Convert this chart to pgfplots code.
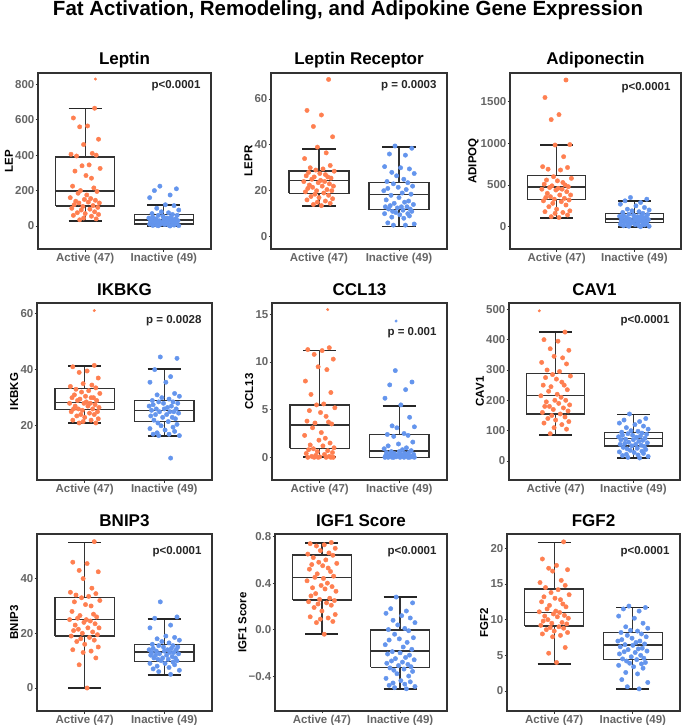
\documentclass[border=0pt]{standalone}
\usepackage{fontspec}
\setmainfont{Liberation Sans}
\usepackage{pgfplots}
\usepackage{pgfplotstable}
\pgfplotsset{compat=1.18}

\definecolor{act}{HTML}{FF7F50}
\definecolor{ina}{HTML}{6495ED}
\definecolor{framegray}{HTML}{333333}
\definecolor{tickgray}{HTML}{666666}
\definecolor{ptext}{HTML}{262626}

% jitter offsets (active / inactive), one row per point
\pgfplotstableread[row sep=\\]{ja jb\\
0.12 -0.05\\-0.15 0.16\\0.03 -0.12\\-0.07 0.08\\0.17 -0.18\\-0.02 0.02\\0.09 0.13\\-0.18 -0.09\\0.14 0.19\\-0.11 -0.03\\
0.05 0.06\\-0.04 -0.15\\0.19 0.11\\-0.13 -0.07\\0.01 0.17\\0.08 -0.01\\-0.16 -0.14\\0.11 0.09\\-0.06 -0.19\\0.15 0.04\\
-0.09 0.15\\0.02 -0.10\\-0.19 0.00\\0.07 -0.16\\-0.01 0.12\\0.13 0.07\\-0.12 -0.06\\0.04 0.18\\0.18 -0.11\\-0.08 0.03\\
-0.14 -0.17\\0.10 0.10\\-0.03 -0.02\\0.16 0.14\\-0.17 -0.13\\0.06 0.05\\-0.05 -0.08\\0.12 0.16\\-0.10 -0.04\\0.00 0.11\\
0.17 -0.18\\-0.15 0.01\\0.08 0.13\\-0.02 -0.09\\0.14 0.06\\-0.07 -0.14\\0.03 0.19\\-0.12 -0.07\\0.10 0.08\\}\jit

% values, one column per panel and group (nan pads the shorter groups)
\pgfplotstablecreatecol[create col/set list={665,610,565,560,490,460,410,405,400,395,345,340,325,310,285,270,225,215,200,195,185,175,160,155,150,145,140,135,130,130,120,115,110,105,100,95,90,80,75,70,65,60,55,45,40,35,nan,nan,nan}]{a1}{\jit}
\pgfplotstablecreatecol[create col/set list={225,210,200,175,160,120,115,100,90,80,75,70,65,60,60,55,50,50,45,45,40,40,40,35,35,35,30,30,30,25,25,25,20,20,20,15,15,15,10,10,10,8,5,5,5,3,2,1,0}]{b1}{\jit}
\pgfplotstablecreatecol[create col/set list={68.5,55,53,48,43.5,39,36.5,34,31,30,29.5,29,28.5,28,27.5,27,26.5,26,26,25.5,25,24.5,24,24,23.5,23,22.5,22,22,21.5,21,20.5,20,20,19.5,19,18.5,18,17.5,17,16.5,16,15.5,15,14.5,14,13.5,nan,nan}]{a2}{\jit}
\pgfplotstablecreatecol[create col/set list={39.5,38.5,36,35.5,30.5,30,29.5,28,27.5,26.5,25,24,23.5,23,22,21.5,21,20.5,20,19,18.5,18,17,16,15.5,15,14.5,14,13.5,13,13,13,12.5,12,12,11.5,11,11,10.5,10,10,9.5,9,8.5,8,6,5.5,5,5}]{b2}{\jit}
\pgfplotstablecreatecol[create col/set list={1760,1550,1345,1285,985,980,840,720,710,690,680,600,580,560,550,530,510,500,490,480,470,460,450,450,440,420,400,380,380,360,350,340,330,320,310,300,280,260,240,210,190,180,170,160,140,120,110,nan,nan}]{a3}{\jit}
\pgfplotstablecreatecol[create col/set list={350,330,310,290,270,250,230,210,200,190,180,170,160,150,145,140,135,130,125,120,115,110,105,100,100,95,90,85,80,75,70,65,60,60,55,50,45,40,40,35,30,25,20,15,10,10,5,5,0}]{b3}{\jit}
\pgfplotstablecreatecol[create col/set list={41.5,41,39.5,39,37,35,34.5,34,33.5,33,32.5,32,31.5,31,30.5,30,30,30,29.5,29,29,28.5,28,28,28,27.5,27,27,26.5,26,26,26,25.5,25,25,24.5,24,24,23.5,23,22.5,22,22,21.5,21,21,nan,nan,nan}]{a4}{\jit}
\pgfplotstablecreatecol[create col/set list={44.5,44,40,37.5,35.5,35.5,31.5,31,30.5,30,29.5,29,28.5,28.5,28,28,27.5,27,27,26.5,26,26,26,25.5,25,25,25,24.5,24,24,23.5,23,23,22.5,22,21.5,21,20.5,20,19.5,19,18.5,18,17.5,17,17,16.5,16.5,8.5}]{b4}{\jit}
\pgfplotstablecreatecol[create col/set list={11.5,11.3,11.2,10.8,10.3,9.5,9.2,8.0,6.8,6.6,5.6,5.5,5.2,4.9,4.7,4.3,3.8,3.7,3.6,3.5,3.1,2.6,2.3,2.0,1.8,1.5,1.3,1.2,1.0,0.9,0.8,0.7,0.6,0.5,0.4,0.3,0.2,0.1,0.1,0.05,0,0,0,0,0,0,nan,nan,nan}]{a5}{\jit}
\pgfplotstablecreatecol[create col/set list={9.1,7.9,7.6,7.1,6.2,5.5,4.2,3.3,3.2,3.1,2.5,2.4,2.3,2.2,1.6,1.4,1.2,1.0,0.9,0.8,0.7,0.6,0.6,0.5,0.5,0.4,0.4,0.3,0.3,0.3,0.2,0.2,0.2,0.1,0.1,0.1,0.1,0.05,0.05,0,0,0,0,0,0,0,0,0,nan}]{b5}{\jit}
\pgfplotstablecreatecol[create col/set list={425,400,395,370,365,345,340,325,320,300,295,285,280,275,270,260,250,250,245,235,230,220,215,210,200,200,195,190,185,180,180,175,170,165,160,155,150,145,140,135,130,125,120,110,105,90,nan,nan,nan}]{a6}{\jit}
\pgfplotstablecreatecol[create col/set list={155,140,135,130,125,120,115,110,105,100,98,95,92,90,88,85,85,82,80,78,75,72,70,70,68,65,62,60,58,55,55,52,50,48,45,42,40,38,35,32,30,28,25,22,20,18,15,12,10}]{b6}{\jit}
\pgfplotstablecreatecol[create col/set list={53.5,46,45.5,43,42.5,40,36.5,35,34.5,34,33.5,33,32,31.5,30.5,30,28,27,26.5,26,25.5,25,25,24.5,24,23.5,23,22,22,21.5,21,20.5,20,19.5,19,18.5,18,17.5,17,16,15,14,13.5,13,11,8.5,0,nan,nan}]{a7}{\jit}
\pgfplotstablecreatecol[create col/set list={31.5,26,25.5,23,22,19,18.5,18,17.5,17,16.5,16,15.5,15.5,15,15,14.5,14.5,14,14,14,13.5,13.5,13,13,13,12.5,12.5,12,12,12,11.5,11,11,11,10.5,10.5,10,10,9.5,9,9,8.5,8,7.5,7,6.5,6,5}]{b7}{\jit}
\pgfplotstablecreatecol[create col/set list={0.75,0.74,0.73,0.72,0.70,0.68,0.66,0.65,0.64,0.62,0.60,0.58,0.57,0.56,0.55,0.53,0.52,0.50,0.48,0.46,0.45,0.44,0.42,0.40,0.38,0.37,0.36,0.35,0.33,0.31,0.29,0.27,0.26,0.25,0.24,0.23,0.22,0.21,0.19,0.16,0.13,0.11,0.10,0.09,0.07,0.06,-0.04,nan,nan}]{a8}{\jit}
\pgfplotstablecreatecol[create col/set list={0.28,0.23,0.18,0.16,0.14,0.12,0.10,0.08,0.06,0.04,0.01,0.0,-0.01,-0.04,-0.07,-0.08,-0.09,-0.11,-0.13,-0.15,-0.17,-0.19,-0.20,-0.21,-0.22,-0.24,-0.25,-0.26,-0.27,-0.28,-0.29,-0.30,-0.31,-0.32,-0.33,-0.34,-0.35,-0.36,-0.38,-0.40,-0.42,-0.44,-0.45,-0.46,-0.47,-0.48,-0.49,-0.50,-0.51}]{b8}{\jit}
\pgfplotstablecreatecol[create col/set list={20.9,18.5,17.6,17.2,17.0,16.8,15.5,15.2,14.8,14.5,14.2,13.8,13.5,13.2,13.0,12.8,12.5,12.2,12.0,11.8,11.5,11.2,11.1,11.0,10.8,10.6,10.5,10.4,10.2,10.0,9.8,9.6,9.5,9.4,9.2,9.0,8.9,8.8,8.6,8.4,8.2,8.0,7.8,7.6,6.1,5.3,4.0,nan,nan}]{a9}{\jit}
\pgfplotstablecreatecol[create col/set list={11.9,11.7,11.5,11.2,10.5,10.2,9.5,9.0,8.8,8.5,8.4,8.2,8.0,7.8,7.6,7.4,7.2,7.0,7.0,6.8,6.6,6.5,6.4,6.2,6.0,5.9,5.8,5.6,5.5,5.4,5.2,5.0,4.8,4.6,4.5,4.4,4.2,4.0,3.9,3.8,3.6,3.4,3.2,2.6,2.4,1.6,1.2,0.6,0.3}]{b9}{\jit}

\newcommand{\lbl}{\bfseries\fontsize{11.5}{12}\selectfont}

\pgfplotsset{
  panel/.style={
    scale only axis, anchor=north west,
    xmin=0.4, xmax=2.6,
    xtick={1,2}, xticklabels={Active (47),Inactive (49)},
    tick pos=left, tick align=outside, major tick length=2.5pt,
    tick style={framegray, line width=0.8pt},
    axis line style={framegray, line width=1.3pt},
    ticklabel style={font=\lbl, text=tickgray, inner sep=1pt},
    /pgf/number format/assume math mode=true,
    /pgf/number format/1000 sep={},
    scaled y ticks=false,
    ylabel style={font=\lbl, inner sep=1pt},
    title style={font=\bfseries\fontsize{17}{19}\selectfont, at={(0.5,1)}, anchor=base, yshift=2pt},
  },
  boxline/.style={draw=framegray, line width=1.3pt, mark=none},
  capline/.style={draw=black!85, line width=1.8pt, mark=none},
  dots/.style={only marks, mark=*, mark size=2.2pt, color=#1},
  odot/.style={only marks, mark=*, mark size=1.3pt, color=#1},
}

% box for group 1 and group 2: lower whisker, Q1, median, Q3, upper whisker
\newcommand{\bxA}[5]{%
  \addplot[boxline] coordinates {(1,#1) (1,#5)};
  \addplot[capline] coordinates {(0.79,#1) (1.21,#1)};
  \addplot[capline] coordinates {(0.79,#5) (1.21,#5)};
  \addplot[boxline, fill=white] coordinates {(0.625,#2) (1.375,#2) (1.375,#4) (0.625,#4) (0.625,#2)};
  \addplot[boxline] coordinates {(0.625,#3) (1.375,#3)};}
\newcommand{\bxB}[5]{%
  \addplot[boxline] coordinates {(2,#1) (2,#5)};
  \addplot[capline] coordinates {(1.79,#1) (2.21,#1)};
  \addplot[capline] coordinates {(1.79,#5) (2.21,#5)};
  \addplot[boxline, fill=white] coordinates {(1.625,#2) (2.375,#2) (2.375,#4) (1.625,#4) (1.625,#2)};
  \addplot[boxline] coordinates {(1.625,#3) (2.375,#3)};}
% jittered points: colour, jitter column, centre, value column
\newcommand{\pts}[4]{\addplot[dots=#1] table[x expr={#3+\thisrow{#2}}, y=#4] {\jit};}
\newcommand{\pv}[2]{\node[anchor=east, font=\lbl, text=ptext, xshift=-7pt, yshift=-#2pt] at (rel axis cs:1,1) {#1};}

\begin{document}
\begin{tikzpicture}
\path[use as bounding box] (0,0) rectangle (685pt,-725pt);
\node[font=\bfseries\fontsize{20.5}{23}\selectfont, anchor=base] at (348pt,-15.5pt) {Fat Activation, Remodeling, and Adipokine Gene Expression};

% ---- Leptin
\begin{axis}[panel, at={(38pt,-73pt)}, width=173pt, height=176pt,
  ymin=-130, ymax=864, ytick={0,200,400,600,800}, ylabel={LEP}, title={Leptin}]
\bxA{30}{113}{198}{390}{664}
\bxB{0}{11}{34}{64}{119}
\pts{act}{ja}{1}{a1}
\pts{ina}{jb}{2}{b1}
\addplot[odot=act] coordinates {(1.13,830)};
\pv{p<0.0001}{13}
\end{axis}

% ---- Leptin Receptor
\begin{axis}[panel, at={(271pt,-73pt)}, width=176pt, height=176pt,
  ymin=-5.4, ymax=71.3, ytick={0,20,40,60}, ylabel={LEPR}, title={Leptin Receptor}]
\bxA{13.2}{18.9}{24.3}{28.6}{38.2}
\bxB{4.4}{11.8}{18.2}{23.7}{39.1}
\pts{act}{ja}{1}{a2}
\pts{ina}{jb}{2}{b2}
\pv{p = 0.0003}{13}
\end{axis}

% ---- Adiponectin
\begin{axis}[panel, at={(510pt,-73pt)}, width=171pt, height=176pt,
  ymin=-268, ymax=1844, ytick={0,500,1000,1500}, ylabel={ADIPOQ}, title={Adiponectin}]
\bxA{108}{324}{476}{616}{980}
\bxB{0}{48}{92}{160}{304}
\pts{act}{ja}{1}{a3}
\pts{ina}{jb}{2}{b3}
\pv{p<0.0001}{15}
\end{axis}

% ---- IKBKG
\begin{axis}[panel, at={(37pt,-303pt)}, width=175pt, height=177pt,
  ymin=0.7, ymax=63.7, ytick={20,40,60}, ylabel={IKBKG}, title={IKBKG}]
\bxA{21.1}{25.7}{28.3}{33.2}{41.2}
\bxB{16.4}{21.4}{25.5}{29.0}{40.2}
\pts{act}{ja}{1}{a4}
\pts{ina}{jb}{2}{b4}
\addplot[odot=act] coordinates {(1.12,61)};
\pv{p = 0.0028}{18}
\end{axis}

% ---- CCL13
\begin{axis}[panel, at={(272pt,-303pt)}, width=175pt, height=177pt,
  ymin=-2.38, ymax=16.19, ytick={0,5,10,15}, ylabel={CCL13}, title={CCL13}]
\bxA{0}{0.95}{3.4}{5.5}{11.2}
\bxB{0}{0}{0.66}{2.4}{5.4}
\pts{act}{ja}{1}{a5}
\pts{ina}{jb}{2}{b5}
\addplot[odot=act] coordinates {(1.10,15.5)};
\addplot[odot=ina] coordinates {(1.96,14.3)};
\pv{p = 0.001}{30}
\end{axis}

% ---- CAV1
\begin{axis}[panel, at={(509pt,-303pt)}, width=171pt, height=177pt,
  ymin=-62.6, ymax=520.8, ytick={0,100,200,300,400,500}, ylabel={CAV1}, title={CAV1}]
\bxA{87}{155}{215}{289}{424}
\bxB{9}{49}{75}{93}{153}
\pts{act}{ja}{1}{a6}
\pts{ina}{jb}{2}{b6}
\addplot[odot=act] coordinates {(0.79,495)};
\pv{p<0.0001}{18}
\end{axis}

% ---- BNIP3
\begin{axis}[panel, at={(37pt,-534pt)}, width=175pt, height=177pt,
  ymin=-8.4, ymax=56.3, ytick={0,20,40}, ylabel={BNIP3}, title={BNIP3}]
\bxA{0}{19.0}{25.0}{33.2}{53.2}
\bxB{4.8}{9.8}{13.2}{15.9}{25.1}
\pts{act}{ja}{1}{a7}
\pts{ina}{jb}{2}{b7}
\pv{p<0.0001}{18}
\end{axis}

% ---- IGF1 Score
\begin{axis}[panel, at={(275pt,-534pt)}, width=172pt, height=177pt,
  ymin=-0.701, ymax=0.823, ytick={-0.4,0,0.4,0.8}, yticklabels={−0.4,0.0,0.4,0.8},
  ylabel={IGF1 Score}, title={IGF1 Score}]
\bxA{-0.038}{0.255}{0.45}{0.642}{0.748}
\bxB{-0.515}{-0.325}{-0.185}{-0.004}{0.283}
\pts{act}{ja}{1}{a8}
\pts{ina}{jb}{2}{b8}
\pv{p<0.0001}{18}
\end{axis}

% ---- FGF2
\begin{axis}[panel, at={(507pt,-534pt)}, width=173pt, height=177pt,
  ymin=-2.8, ymax=22.0, ytick={0,5,10,15,20}, ylabel={FGF2}, title={FGF2}]
\bxA{3.8}{9.1}{11.0}{14.3}{20.8}
\bxB{0.23}{4.4}{6.45}{8.2}{11.7}
\pts{act}{ja}{1}{a9}
\pts{ina}{jb}{2}{b9}
\pv{p<0.0001}{18}
\end{axis}
\end{tikzpicture}
\end{document}
